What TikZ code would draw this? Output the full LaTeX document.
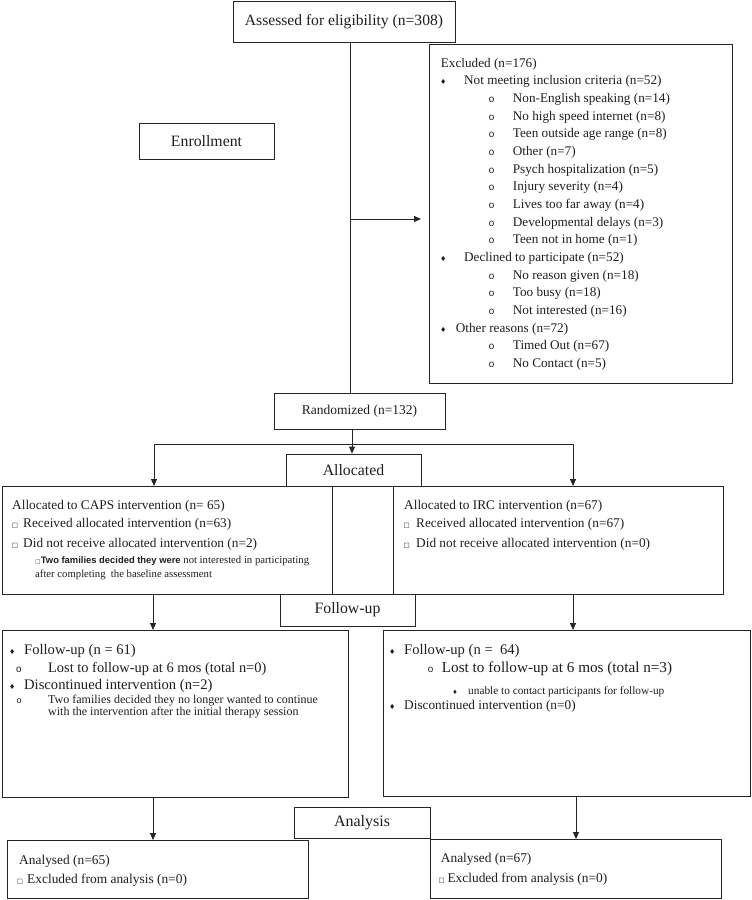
\documentclass[tikz,border=0pt]{standalone}
\usepackage{fontspec}
\setmainfont{Liberation Serif}
\newfontfamily\dejavu{DejaVu Sans}
\newfontfamily\monof{Liberation Mono}
\newfontfamily\arialf{Liberation Sans}
\usetikzlibrary{arrows.meta}
\definecolor{linec}{HTML}{252525}
\definecolor{textc}{HTML}{1E1E1E}
\newcommand\fsz[1]{\fontsize{#1}{#1}\selectfont}
\newcommand\bdia{{\dejavu\fsz{7}♦}}
\newcommand\bcirc{{\monof\fsz{10}o}}
\newcommand\bsq{{\dejavu\fsz{6.5}□}}
\begin{document}
\begin{tikzpicture}[x=1pt,y=-1pt,
  box/.style={draw=linec, line width=0.9pt, inner sep=0pt, anchor=north west},
  lbl/.style={draw=linec, line width=0.9pt, inner sep=0pt, align=center, text=textc},
  txt/.style={anchor=base west, inner sep=0pt, text=textc},
  bul/.style={anchor=base, inner sep=0pt, text=textc},
  ln/.style={draw=linec, line width=0.9pt},
  arr/.style={draw=linec, line width=0.9pt, -{Triangle[length=7pt,width=6pt]}}]
\useasboundingbox (0,0) rectangle (752,900);

% stage labels
\node[lbl, minimum width=222pt, minimum height=41pt, font=\fsz{15.6}] (assess) at (344,21.5) {Assessed for eligibility (n=308)};
\node[lbl, minimum width=135pt, minimum height=36pt, font=\fsz{15.8}] (enrol) at (206.5,141) {Enrollment};
\node[lbl, minimum width=171pt, minimum height=36pt, font=\fsz{13.5}] (rand) at (359.5,411) {Randomized (n=132)};
\node[lbl, minimum width=135pt, minimum height=32pt, font=\fsz{15.8}] (alloc) at (353.5,470) {Allocated};
\node[lbl, minimum width=135pt, minimum height=32pt, font=\fsz{15.8}] (follow) at (347.5,610) {Follow-up};
\node[lbl, minimum width=136pt, minimum height=31pt, font=\fsz{16}] (analysis) at (362,822.5) {Analysis};

% content boxes
\node[box, minimum width=303pt, minimum height=339pt] (excl) at (429,44) {};
\node[box, minimum width=330pt, minimum height=108pt] (capsA) at (2,486) {};
\node[box, minimum width=330pt, minimum height=108pt] (ircA) at (393,486) {};
\node[box, minimum width=346pt, minimum height=167pt] (capsF) at (2,630) {};
\node[box, minimum width=367pt, minimum height=166pt] (ircF) at (383,630) {};
\node[box, minimum width=301pt, minimum height=58pt] (capsN) at (7,840) {};
\node[box, minimum width=291pt, minimum height=59pt] (ircN) at (430,839) {};

% connectors
\coordinate (sx) at (350,0);
\coordinate (extip) at (421,219);
\coordinate (rx) at (352,0);
\coordinate (hl) at (154,444);
\coordinate (hr) at (573,444);
\coordinate (c1) at (153,0);
\coordinate (c2) at (573,0);
\coordinate (c3) at (576,0);
\draw[ln] (assess.south -| sx) -- (rand.north -| sx);
\draw[arr] (sx |- extip) -- (extip);
\draw[arr] (rand.south -| rx) -- (alloc.north -| rx);
\draw[ln] (hl) -- (hr);
\draw[arr] (hl) -- (capsA.north -| hl);
\draw[arr] (hr) -- (ircA.north -| hr);
\draw[arr] (capsA.south -| c1) -- (capsF.north -| c1);
\draw[arr] (capsF.south -| c1) -- (capsN.north -| c1);
\draw[arr] (ircA.south -| c2) -- (ircF.north -| c2);
\draw[arr] (ircF.south -| c3) -- (ircN.north -| c3);

% excluded list
\begin{scope}[font=\fsz{13.2}]
\node[txt] (e0) at (440.7,67.3) {Excluded (n=176)};
\node[bul] (eb1) at (443.3,84.9) {\bdia};
\node[txt] (e1) at (464,84.9) {Not meeting inclusion criteria (n=52)};
\node[bul] (eb2) at (491.7,102.6) {\bcirc};
\node[txt] (e2) at (512.7,102.6) {Non-English speaking (n=14)};
\node[bul] (eb3) at (491.7,120.2) {\bcirc};
\node[txt] (e3) at (512.7,120.2) {No high speed internet (n=8)};
\node[bul] (eb4) at (491.7,137.9) {\bcirc};
\node[txt] (e4) at (512.7,137.9) {Teen outside age range (n=8)};
\node[bul] (eb5) at (491.7,155.5) {\bcirc};
\node[txt] (e5) at (512.7,155.5) {Other (n=7)};
\node[bul] (eb6) at (491.7,173.2) {\bcirc};
\node[txt] (e6) at (512.7,173.2) {Psych hospitalization (n=5)};
\node[bul] (eb7) at (491.7,190.8) {\bcirc};
\node[txt] (e7) at (512.7,190.8) {Injury severity (n=4)};
\node[bul] (eb8) at (491.7,208.5) {\bcirc};
\node[txt] (e8) at (512.7,208.5) {Lives too far away (n=4)};
\node[bul] (eb9) at (491.7,226.1) {\bcirc};
\node[txt] (e9) at (512.7,226.1) {Developmental delays (n=3)};
\node[bul] (eb10) at (491.7,243.8) {\bcirc};
\node[txt] (e10) at (512.7,243.8) {Teen not in home (n=1)};
\node[bul] (eb11) at (443.3,261.4) {\bdia};
\node[txt] (e11) at (464,261.4) {Declined to participate (n=52)};
\node[bul] (eb12) at (491.7,279.1) {\bcirc};
\node[txt] (e12) at (512.7,279.1) {No reason given (n=18)};
\node[bul] (eb13) at (491.7,296.7) {\bcirc};
\node[txt] (e13) at (512.7,296.7) {Too busy (n=18)};
\node[bul] (eb14) at (491.7,314.4) {\bcirc};
\node[txt] (e14) at (512.7,314.4) {Not interested (n=16)};
\node[bul] (eb15) at (443.3,332) {\bdia};
\node[txt] (e15) at (455.7,332) {Other reasons (n=72)};
\node[bul] (eb16) at (491.7,349.7) {\bcirc};
\node[txt] (e16) at (512.7,349.7) {Timed Out (n=67)};
\node[bul] (eb17) at (491.7,367.3) {\bcirc};
\node[txt] (e17) at (512.7,367.3) {No Contact (n=5)};
\end{scope}

% CAPS / IRC allocation
\begin{scope}[font=\fsz{13.3}]
\node[txt] (ca0) at (12,509) {Allocated to CAPS intervention (n= 65)};
\node[bul] (cab1) at (15,527.3) {\bsq};
\node[txt] (ca1) at (23,527.3) {Received allocated intervention (n=63)};
\node[bul] (cab2) at (15,547.3) {\bsq};
\node[txt] (ca2) at (23,547.3) {Did not receive allocated intervention (n=2)};
\node[txt] (ia0) at (404,509) {Allocated to IRC intervention (n=67)};
\node[bul] (iab1) at (406.7,527.3) {\bsq};
\node[txt] (ia1) at (416,527.3) {Received allocated intervention (n=67)};
\node[bul] (iab2) at (406.7,547.3) {\bsq};
\node[txt] (ia2) at (416,547.3) {Did not receive allocated intervention (n=0)};
\end{scope}
\node[bul] (cab3) at (38,563.7) {\dejavu\fsz{5.5}□};
\node[txt] (ca3) at (40.7,563.7) {{\arialf\bfseries\fsz{9.4}Two families decided they were}{\fsz{10.7} not interested in participating}};
\node[txt, font=\fsz{10.7}] (ca4) at (35,577) {after completing\ \ the baseline assessment};

% CAPS follow-up
\node[bul] (cfb1) at (12.3,654.4) {\bdia};
\node[txt, font=\fsz{14.6}] (cf1) at (24,654.4) {Follow-up (n = 61)};
\node[bul] (cfb2) at (19,672.7) {\bcirc};
\node[txt, font=\fsz{14.4}] (cf2) at (48,672.7) {Lost to follow-up at 6 mos (total n=0)};
\node[bul] (cfb3) at (12.3,689) {\bdia};
\node[txt, font=\fsz{14.6}] (cf3) at (24,689) {Discontinued intervention (n=2)};
\node[bul] (cfb4) at (19,703.4) {{\monof\fsz{9}o}};
\node[txt, font=\fsz{12}] (cf4) at (48,703.4) {Two families decided they no longer wanted to continue};
\node[txt, font=\fsz{12}] (cf5) at (48,715.5) {with the intervention after the initial therapy session};

% IRC follow-up
\node[bul] (ifb1) at (392.3,654.4) {\bdia};
\node[txt, font=\fsz{14.6}] (if1) at (404,654.4) {Follow-up (n =\ \ 64)};
\node[bul] (ifb2) at (430.7,672.7) {\bcirc};
\node[txt, font=\fsz{15.2}] (if2) at (441.7,672.7) {Lost to follow-up at 6 mos (total n=3)};
\node[bul] (ifb3) at (455,694) {{\dejavu\fsz{6}♦}};
\node[txt, font=\fsz{11.3}] (if3) at (468,694) {unable to contact participants for follow-up};
\node[bul] (ifb4) at (392.3,709) {\bdia};
\node[txt, font=\fsz{13.3}] (if4) at (404,709) {Discontinued intervention (n=0)};

% Analysed
\begin{scope}[font=\fsz{13.4}]
\node[txt] (cn1) at (19,864) {Analysed (n=65)};
\node[bul] (cnb2) at (20,883.3) {\bsq};
\node[txt] (cn2) at (27,883.3) {Excluded from analysis (n=0)};
\node[txt] (in1) at (440.7,862.3) {Analysed (n=67)};
\node[bul] (inb2) at (441.7,882.3) {\bsq};
\node[txt] (in2) at (447.3,882.3) {Excluded from analysis (n=0)};
\end{scope}
\end{tikzpicture}
\end{document}
